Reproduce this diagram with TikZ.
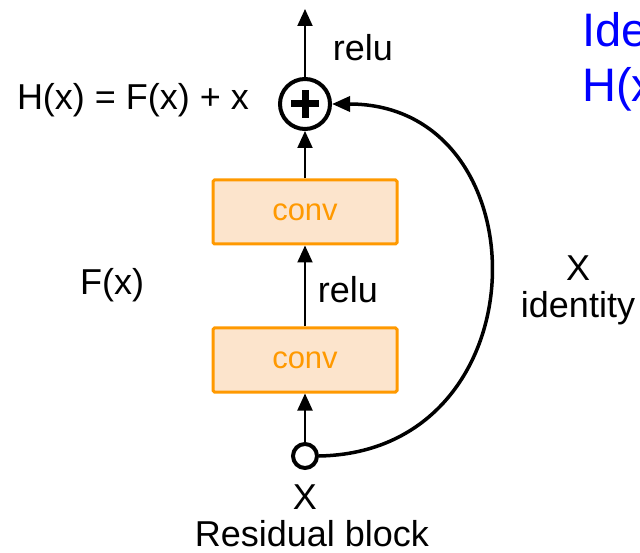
\documentclass[tikz,border=0pt]{standalone}
\usepackage{fontspec}
\setmainfont{Liberation Sans}
\usetikzlibrary{arrows.meta}
\definecolor{convorange}{RGB}{255,153,0}
\definecolor{convfill}{RGB}{252,228,204}
\definecolor{titleblue}{RGB}{0,0,255}
\begin{document}
\begin{tikzpicture}[x=1pt,y=-1pt,
  lbl/.style={inner sep=0pt,font=\fontsize{36}{42}\selectfont},
  convbox/.style={draw=convorange,fill=convfill,line width=3pt,rounded corners=1.5pt,
    minimum width=184pt,minimum height=64pt,inner sep=0pt,text=convorange,
    font=\fontsize{31}{36}\selectfont},
  flow/.style={line width=2pt,-{Triangle[width=15pt,length=17pt]}},
  skip/.style={line width=3.5pt,-{Triangle[width=15pt,length=18pt]}},
  ring/.style={circle,draw,line width=4pt,inner sep=0pt}]
\useasboundingbox (0,0) rectangle (640,553);
\clip (0,0) rectangle (640,553);
% title (cut off at right edge)
\node[anchor=base west,inner sep=0pt,text=titleblue,font=\fontsize{47}{54}\selectfont] (t1) at (582,47) {Identity mapping:};
\node[anchor=base west,inner sep=0pt,text=titleblue,font=\fontsize{47}{54}\selectfont] (t2) at (582,102) {H(x) = F(x) + x};
% nodes
\node[ring,minimum size=50pt] (plus) at (305,104) {};
\draw[line width=7pt] ([xshift=-14pt]plus.center) -- ([xshift=14pt]plus.center);
\draw[line width=7pt] ([yshift=-14pt]plus.center) -- ([yshift=14pt]plus.center);
\node[convbox] (conv2) at (305,212) {conv};
\node[convbox] (conv1) at (305,360) {conv};
\node[ring,minimum size=24pt] (in) at (305,456) {};
\coordinate (out) at (305,9);
% connectors
\draw[flow] (plus.north) -- (out);
\draw[flow] (conv2.north) -- (plus.south);
\draw[flow] (conv1.north) -- (conv2.south);
\draw[flow] (in.north) -- (conv1.south);
\draw[skip] (in.east) .. controls (545,452) and (545,104) .. (plus.east);
% labels
\node[lbl] (relu1) at (363,48) {relu};
\node[lbl] (hx) at (133,100) {H(x) = F(x) + x};
\node[lbl] (fx) at (112,285) {F(x)};
\node[lbl] (relu2) at (348,290) {relu};
\node[lbl] (xid) at (578,268) {X};
\node[lbl] (id) at (578,308) {identity};
\node[lbl] (xin) at (305,497) {X};
\node[lbl] (cap) at (312,534) {Residual block};
\end{tikzpicture}
\end{document}
